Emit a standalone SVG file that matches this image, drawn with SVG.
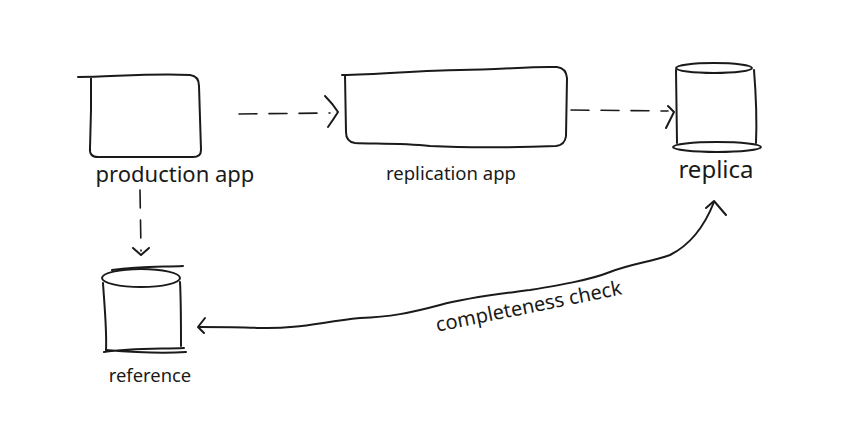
<svg xmlns="http://www.w3.org/2000/svg" width="845" height="447" viewBox="0 0 845 447">
<style>
.s{fill:none;stroke:#1a1a1a;stroke-width:2;stroke-linecap:round;stroke-linejoin:round}
.d{fill:none;stroke:#1a1a1a;stroke-width:1.6;stroke-linecap:round;stroke-dasharray:18 12}
.t{font-family:"Noto Sans","Open Sans","Liberation Sans",sans-serif;fill:#1a1a1a;text-anchor:middle}
</style>
<rect width="845" height="447" fill="#ffffff"/>
<g id="production-app">
<path class="s" d="M78,77 C110,77 150,73 190,75 Q199,76 199,86 L201,150 Q201,157 193,157 L98,157 Q89,157 90,148 L91,110 L91,77"/>
<text class="t" x="175" y="182" font-size="22">production app</text>
</g>
<g id="replication-app">
<path class="s" d="M342,75 C380,75 420,70 460,70 C500,70 530,66 557,67 Q566,68 567,78 L566,136 Q565,145 556,146 C500,148 470,148 430,146 C400,143 370,144 355,143 Q346,142 346,132 L345,75"/>
<text class="t" x="451" y="180" font-size="18.5">replication app</text>
</g>
<g id="replica">
<ellipse class="s" cx="714" cy="68" rx="38" ry="5"/>
<path class="s" d="M676,70 L677,143 M754,70 C756,95 757,120 756,143"/>
<ellipse class="s" cx="717" cy="147" rx="44" ry="5"/>
<text class="t" x="716" y="178" font-size="24">replica</text>
</g>
<g id="reference">
<ellipse class="s" cx="141" cy="278" rx="39" ry="9"/>
<path class="s" d="M112,270 C140,266 160,267 183,266"/>
<path class="s" d="M103,283 C104,300 107,330 106,350 M180,282 C181,300 181,325 181,346"/>
<path class="s" d="M104,352 C130,348 160,349 184,348 M106,350 C130,352 160,354 186,352"/>
<text class="t" x="150" y="382" font-size="18.4">reference</text>
</g>
<g id="connectors">
<path class="d" d="M239,114 L330,113"/>
<path class="s" d="M325,96 Q333,104 338,112 Q333,120 328,127"/>
<path class="d" d="M571,110 L668,111"/>
<path class="s" d="M668,106 L674,112 L666,128"/>
<path class="d" stroke-dasharray="16 12" d="M140,190 L141,251"/>
<path class="s" d="M133,248 L141,255 L149,248"/>
<path class="s" d="M714,202 C705,225 690,245 670,255 C650,262 630,264 610,272 C590,280 560,285 530,290 C500,294 470,297 440,305 C410,313 390,317 360,318 C320,322 300,329 260,328 C240,327 220,327 199,327"/>
<path class="s" d="M706,208 L714,201 L726,215"/>
<path class="s" d="M205,318 L198,327 L204,333"/>
<text class="t" x="530" y="313" font-size="20" transform="rotate(-11.5 530 313)">completeness check</text>
</g>
</svg>
